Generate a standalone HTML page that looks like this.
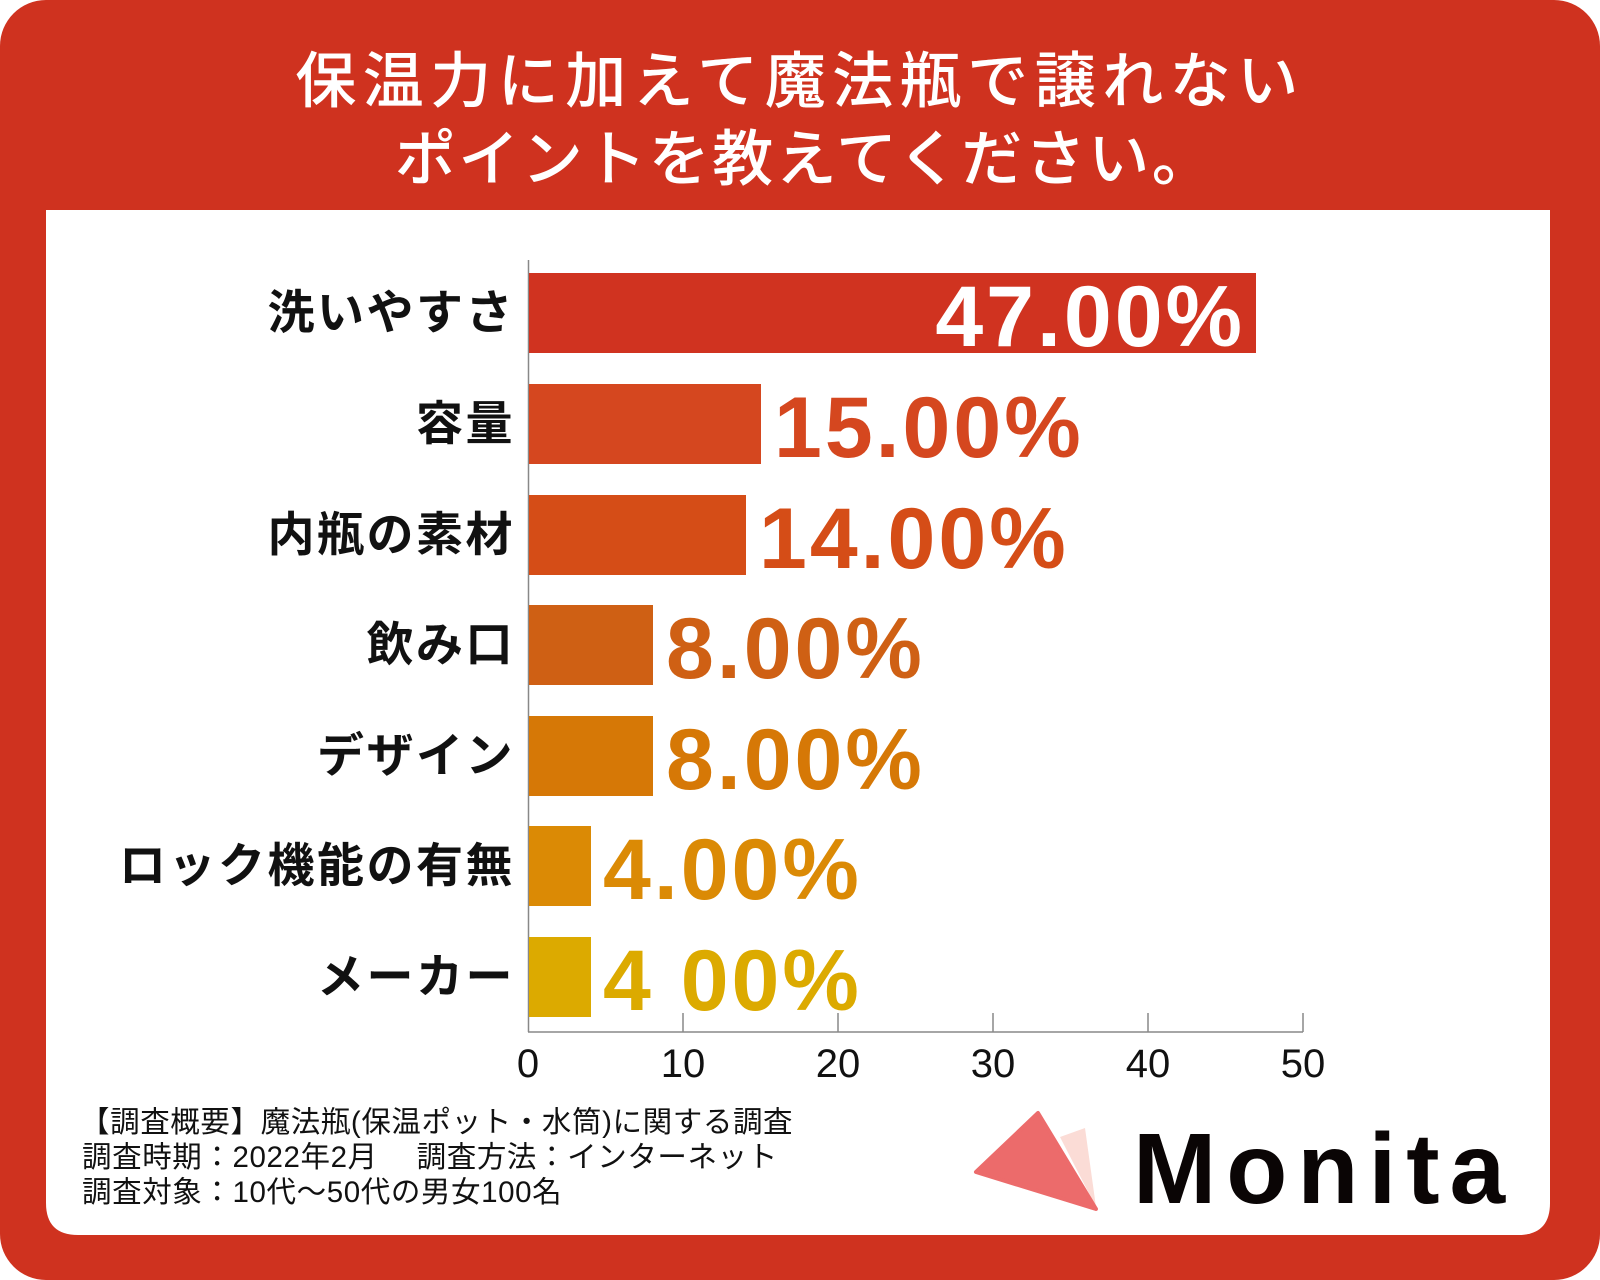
<!DOCTYPE html>
<html><head><meta charset="utf-8"><style>
html,body{margin:0;padding:0;background:#fff;}
svg{display:block;}
text{font-family:"Liberation Sans","Noto Sans CJK JP",sans-serif;}
</style></head><body>
<svg width="1600" height="1280" viewBox="0 0 1600 1280" xmlns="http://www.w3.org/2000/svg">
<rect x="0" y="0" width="1600" height="1280" fill="#fff"/>
<rect x="0" y="0" width="1600" height="1280" rx="46" fill="#cf321f"/>
<path d="M46 210 H1550 V1203 Q1550 1235 1518 1235 H78 Q46 1235 46 1203 Z" fill="#fff"/>
<g fill="#fff" font-size="61" font-weight="500" text-anchor="middle" font-family="Noto Sans CJK JP, sans-serif">
<text x="800" y="102" letter-spacing="6.5">保温力に加えて魔法瓶で譲れない</text>
<text x="805" y="180" letter-spacing="2.5">ポイントを教えてください。</text>
</g>
<line x1="528.5" y1="260" x2="528.5" y2="1032" stroke="#888" stroke-width="1.5"/>
<line x1="528" y1="1032" x2="1303" y2="1032" stroke="#888" stroke-width="1.5"/>
<g stroke="#888" stroke-width="1.5">
<line x1="683" y1="1013" x2="683" y2="1032"/><line x1="838" y1="1013" x2="838" y2="1032"/>
<line x1="993" y1="1013" x2="993" y2="1032"/><line x1="1148" y1="1013" x2="1148" y2="1032"/>
<line x1="1303" y1="1013" x2="1303" y2="1032"/>
</g>
<g font-size="40" fill="#111" text-anchor="middle">
<text x="528" y="1077">0</text><text x="683" y="1077">10</text><text x="838" y="1077">20</text>
<text x="993" y="1077">30</text><text x="1148" y="1077">40</text><text x="1303" y="1077">50</text>
</g>
<rect x="529" y="273" width="727" height="80" fill="#d03320"/>
<rect x="529" y="384" width="232" height="80" fill="#d5471f"/>
<rect x="529" y="495" width="217" height="80" fill="#d54d17"/>
<rect x="529" y="605" width="124" height="80" fill="#cf6014"/>
<rect x="529" y="716" width="124" height="80" fill="#d67806"/>
<rect x="529" y="826" width="62" height="80" fill="#db8a05"/>
<rect x="529" y="937" width="62" height="80" fill="#dcaa00"/>
<g font-size="86" font-weight="700" letter-spacing="3">
<text x="1245" y="346" fill="#fff" text-anchor="end">47.00%</text>
<text x="774" y="457" fill="#d5471f">15.00%</text>
<text x="759" y="568" fill="#d54d17">14.00%</text>
<text x="666" y="678" fill="#cf6014">8.00%</text>
<text x="666" y="789" fill="#d67806">8.00%</text>
<text x="603" y="899" fill="#db8a05">4.00%</text>
<text x="603" y="1010" fill="#dcaa00">4 00%</text>
</g>
<g font-size="47" font-weight="700" fill="#111" text-anchor="end" font-family="Noto Sans CJK JP, sans-serif" letter-spacing="2.5">
<text x="515" y="329">洗いやすさ</text>
<text x="515" y="440">容量</text>
<text x="515" y="551">内瓶の素材</text>
<text x="515" y="661">飲み口</text>
<text x="515" y="772">デザイン</text>
<text x="515" y="882">ロック機能の有無</text>
<text x="515" y="993">メーカー</text>
</g>
<g font-size="29.5" fill="#111" font-family="Noto Sans CJK JP, sans-serif" letter-spacing="0.6">
<text x="80" y="1132">【調査概要】魔法瓶(保温ポット・水筒)に関する調査</text>
<text x="82" y="1167">調査時期：2022年2月　 調査方法：インターネット</text>
<text x="82" y="1202">調査対象：10代～50代の男女100名</text>
</g>
<polygon points="1060,1137 1085,1128 1096,1207" fill="#fbdcd6"/>
<polygon points="1038,1113 976,1172 1096,1209" fill="#ec6b6b" stroke="#ec6b6b" stroke-width="4" stroke-linejoin="round"/>
<text x="1133" y="1203" font-size="100" font-weight="700" fill="#0a0505" letter-spacing="10">Monita</text>
</svg>
</body></html>
